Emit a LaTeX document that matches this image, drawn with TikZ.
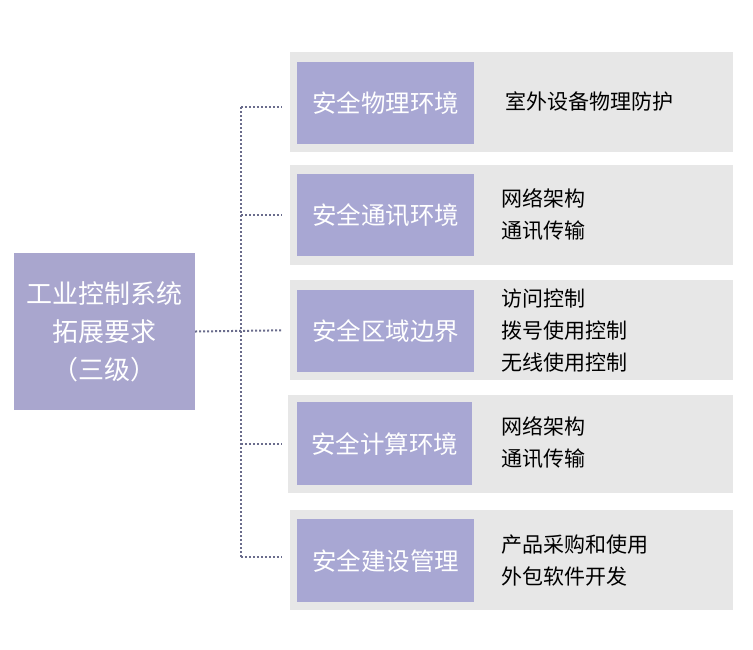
\documentclass[tikz,border=0pt]{standalone}
\usepackage{fontspec}
\newfontfamily\cjk{Noto Sans CJK SC}
\usepackage{xcolor}
\definecolor{lav}{HTML}{A8A7D3}
\definecolor{rootlav}{HTML}{A9A6CE}
\definecolor{panel}{HTML}{E7E7E7}
\definecolor{dots}{HTML}{6A6C8C}
\usetikzlibrary{positioning}

\begin{document}
\begin{tikzpicture}[x=1pt,y=-1pt,
	panelbox/.style={fill=panel,minimum width=443pt,minimum height=100pt,anchor=north west},
	headbox/.style={fill=lav,text=white,minimum width=177pt,minimum height=82pt,anchor=north west,font=\cjk\fontsize{24.5}{28}\selectfont},
	itemtext/.style={anchor=west,align=left,font=\cjk\fontsize{21}{32}\selectfont},
	link/.style={dots,line width=2pt,dash pattern=on 2pt off 2pt}]
	\useasboundingbox (0,0) rectangle (753,649);

	\node[fill=rootlav,text=white,minimum width=181pt,minimum height=157pt,align=center,
	      font=\cjk\fontsize{26}{38}\selectfont] (root) at (104.5,331.5)
	      {工业控制系统\\拓展要求\\（三级）};

	\node[panelbox] (p1) at (290,52) {};
	\node[panelbox] (p2) at (290,165) {};
	\node[panelbox] (p3) at (290,280) {};
	\node[panelbox,minimum height=98pt,minimum width=445pt] (p4) at (288,395) {};
	\node[panelbox] (p5) at (290,510) {};

	\node[headbox] (h1) at (297,62) {安全物理环境};
	\node[headbox] (h2) at (297,174) {安全通讯环境};
	\node[headbox] (h3) at (297,290) {安全区域边界};
	\node[headbox,minimum width=175pt,minimum height=83pt] (h4) at (297,402) {安全计算环境};
	\node[headbox,minimum height=83pt] (h5) at (297,519) {安全建设管理};

	\node[itemtext] (t1) at (502,101) {室外设备物理防护};
	\node[itemtext] (t2) at (498,215) {网络架构\\通讯传输};
	\node[itemtext] (t3) at (498,331) {访问控制\\拨号使用控制\\无线使用控制};
	\node[itemtext] (t4) at (498,443) {网络架构\\通讯传输};
	\node[itemtext] (t5) at (498,561) {产品采购和使用\\外包软件开发};

	% dotted tree
	\coordinate (top) at (241,107);
	\coordinate (bot) at (241,557);
	\draw[link,shorten >=8pt] (root.east) -- (p3.west);
	\draw[link] (top) -- (bot);
	\draw[link,shorten >=8pt] (top) -- (top -| p1.west);
	\draw[link,shorten >=8pt] (241,215) -- (p2.west |- 241,215);
	\draw[link,shorten >=6pt] (241,444) -- (p4.west |- 241,444);
	\draw[link,shorten >=8pt] (bot) -- (bot -| p5.west);
\end{tikzpicture}
\end{document}
